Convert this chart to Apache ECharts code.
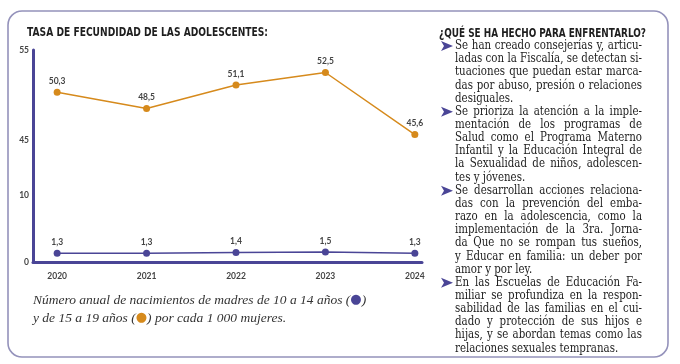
<!DOCTYPE html>
<html>
<head>
<meta charset="utf-8">
<script src="https://cdn.jsdelivr.net/npm/echarts@6/dist/echarts.min.js"></script>
<style>
html,body{margin:0;padding:0;background:#ffffff;}
#chart{width:680px;height:364px;}
</style>
</head>
<body>
<div id="chart"></div>
<script>
// ---- data ----
const years = [2020, 2021, 2022, 2023, 2024];
const rate15to19 = [50.3, 48.5, 51.1, 52.5, 45.6];
const rate10to14 = [1.3, 1.3, 1.4, 1.5, 1.3];
const upperTicks = [45, 55];
const lowerTicks = [0, 10];
const chartTitle = 'TASA DE FECUNDIDAD DE LAS ADOLESCENTES:';
const sideTitle = '¿QUÉ SE HA HECHO PARA ENFRENTARLO?';
const sideParagraphs = [
  ['Se han creado consejerías y, articu-',
   'ladas con la Fiscalía, se detectan si-',
   'tuaciones que puedan estar marca-',
   'das por abuso, presión o relaciones',
   'desiguales.'],
  ['Se prioriza la atención a la imple-',
   'mentación de los programas de',
   'Salud como el Programa Materno',
   'Infantil y la Educación Integral de',
   'la Sexualidad de niños, adolescen-',
   'tes y jóvenes.'],
  ['Se desarrollan acciones relaciona-',
   'das con la prevención del emba-',
   'razo en la adolescencia, como la',
   'implementación de la 3ra. Jorna-',
   'da Que no se rompan tus sueños,',
   'y Educar en familia: un deber por',
   'amor y por ley.'],
  ['En las Escuelas de Educación Fa-',
   'miliar se profundiza en la respon-',
   'sabilidad de las familias en el cui-',
   'dado y protección de sus hijos e',
   'hijas, y se abordan temas como las',
   'relaciones sexuales tempranas.']
];
const captionLine1 = 'Número anual de nacimientos de madres de 10 a 14 años (';
const captionLine1End = ')';
const captionLine2a = 'y de 15 a 19 años (';
const captionLine2b = ') por cada 1 000 mujeres.';

// ---- styles ----
const BLUE = '#4a4596';
const ORANGE = '#d68a1c';
const LABEL_FONT = 'Lato, "Open Sans", sans-serif';
const HEAD_FONT = '"DejaVu Sans", sans-serif';
const SIDE_FONT = '12px "DejaVu Serif", serif';
const CAP_FONT = 'italic 13.5px "Liberation Serif", serif';
const comma = v => String(v).replace('.', ',');

const ctx = document.createElement('canvas').getContext('2d');
function measure(text, font) { ctx.font = font; return ctx.measureText(text).width; }

const chart = echarts.init(document.getElementById('chart'), null, {renderer: 'canvas'});

const xMin = 2019.73, xMax = 2024.08;
const labelStyle = {show: true, position: 'top', distance: 3, fontSize: 8.5, fontWeight: 'bold',
  color: '#444', fontFamily: LABEL_FONT, formatter: p => comma(p.value[1])};
const yLabel = {color: '#444', fontSize: 8.5, fontWeight: 'bold', fontFamily: LABEL_FONT, margin: 4};

// headings, squeezed horizontally to the reference's condensed face
const headFont = 'bold 12.5px ' + HEAD_FONT;
const graphics = [
  {type: 'rect', shape: {x: 8, y: 11, width: 660, height: 346, r: 14},
   style: {fill: 'none', stroke: '#9492bb', lineWidth: 1.6}, silent: true},
  {type: 'text', x: 27, y: 33, scaleX: 241 / measure(chartTitle, headFont),
   style: {text: chartTitle, font: headFont, fill: '#1e1e1e', verticalAlign: 'middle'}},
  {type: 'text', x: 439, y: 34, scaleX: 207 / measure(sideTitle, headFont),
   style: {text: sideTitle, font: headFont, fill: '#1e1e1e', verticalAlign: 'middle'}}
];

// side text: justified columns
const colX = 455, colW = 187, lineH = 13.15, firstY = 46;
let maxW = 0;
sideParagraphs.forEach(par => par.forEach((ln, j) => {
  if (j < par.length - 1) maxW = Math.max(maxW, measure(ln, SIDE_FONT));
}));
const sx = colW / maxW;
let lineIdx = 0;
sideParagraphs.forEach(par => {
  par.forEach((ln, j) => {
    const yc = firstY + lineIdx * lineH;
    if (j === 0) {
      graphics.push({type: 'polygon', shape: {points: [[441, yc - 5], [453, yc], [441, yc + 5], [444, yc]]},
        style: {fill: BLUE}});
    }
    const base = {fill: '#1c1c1c', font: SIDE_FONT, verticalAlign: 'middle', align: 'left'};
    if (j === par.length - 1) {
      graphics.push({type: 'text', x: colX, y: yc, scaleX: sx, style: Object.assign({text: ln}, base)});
    } else {
      const words = ln.split(' ');
      const ws = words.map(w => measure(w, SIDE_FONT) * sx);
      const total = ws.reduce((a, b) => a + b, 0);
      const gap = (colW - total) / (words.length - 1);
      let x = colX;
      words.forEach((w, k) => {
        graphics.push({type: 'text', x: x, y: yc, scaleX: sx, style: Object.assign({text: w}, base)});
        x += ws[k] + gap;
      });
    }
    lineIdx++;
  });
});

graphics.push({type: 'text', x: 33, y: 300, style: {
  text: captionLine1 + '{b|●}' + captionLine1End,
  rich: {b: {fill: BLUE, font: '13px "DejaVu Sans", sans-serif'}},
  font: CAP_FONT, fill: '#333', verticalAlign: 'middle'}});
graphics.push({type: 'text', x: 33, y: 318, style: {
  text: captionLine2a + '{o|●}' + captionLine2b,
  rich: {o: {fill: ORANGE, font: '13px "DejaVu Sans", sans-serif'}},
  font: CAP_FONT, fill: '#333', verticalAlign: 'middle'}});

const option = {
  backgroundColor: '#ffffff',
  animation: false,
  grid: [
    {left: 33, right: 258, top: 50, height: 145},
    {left: 33, right: 258, top: 195, height: 67}
  ],
  xAxis: [
    {gridIndex: 0, type: 'value', min: xMin, max: xMax, show: false},
    {gridIndex: 1, type: 'value', min: xMin, max: xMax,
     axisLine: {show: true, onZero: false, lineStyle: {color: BLUE, width: 3}},
     axisTick: {show: false}, splitLine: {show: false},
     axisLabel: {customValues: years, formatter: v => String(v), color: '#444', fontSize: 8.5,
       fontWeight: 'bold', fontFamily: LABEL_FONT, margin: 10}}
  ],
  yAxis: [
    {gridIndex: 0, type: 'value', min: 45 - 55 / 9, max: 55,
     axisLine: {show: true, onZero: false, lineStyle: {color: BLUE, width: 3}},
     axisTick: {show: false}, splitLine: {show: false},
     axisLabel: Object.assign({customValues: upperTicks}, yLabel)},
    {gridIndex: 1, type: 'value', min: 0, max: 10,
     axisLine: {show: true, onZero: false, lineStyle: {color: BLUE, width: 3}},
     axisTick: {show: false}, splitLine: {show: false},
     axisLabel: Object.assign({customValues: lowerTicks}, yLabel)}
  ],
  series: [
    {type: 'line', xAxisIndex: 0, yAxisIndex: 0, name: '15 a 19 años',
     data: years.map((y, i) => [y, rate15to19[i]]),
     symbol: 'circle', symbolSize: 7, itemStyle: {color: ORANGE},
     lineStyle: {color: ORANGE, width: 1.5}, label: labelStyle},
    {type: 'line', xAxisIndex: 1, yAxisIndex: 1, name: '10 a 14 años',
     data: years.map((y, i) => [y, rate10to14[i]]),
     symbol: 'circle', symbolSize: 7, itemStyle: {color: BLUE},
     lineStyle: {color: BLUE, width: 1.5}, label: labelStyle}
  ],
  graphic: graphics
};
chart.setOption(option);
</script>
</body>
</html>
